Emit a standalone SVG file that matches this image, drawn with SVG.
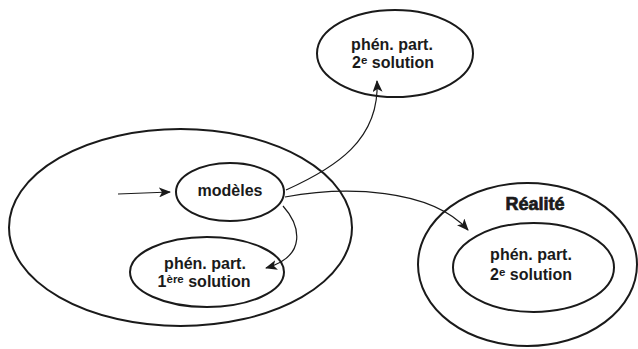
<svg xmlns="http://www.w3.org/2000/svg" width="638" height="349" viewBox="0 0 638 349">
  <style>
    .shape { fill: none; stroke: #1a1a1a; stroke-width: 2; }
    .link { fill: none; stroke: #1a1a1a; stroke-width: 1.2; }
    .label { font-family: "Liberation Sans", Arial, sans-serif; font-weight: bold; font-size: 16px; fill: #1a1a1a; text-anchor: middle; }
    .sup { font-size: 11.5px; }
    .title { font-family: "Liberation Sans", Arial, sans-serif; font-weight: bold; font-size: 18px; fill: #1a1a1a; stroke: #1a1a1a; stroke-width: 0.7; text-anchor: middle; }
  </style>
  <defs>
    <marker id="arrow" viewBox="0 0 12 10" refX="11" refY="5" markerWidth="12" markerHeight="10" markerUnits="userSpaceOnUse" orient="auto">
      <path d="M0,0 L12,5 L0,10 L3,5 z" fill="#1a1a1a"/>
    </marker>
  </defs>

  <rect width="638" height="349" fill="#ffffff"/>

  <!-- modelling domain -->
  <g id="domaine-modele">
    <ellipse class="shape" cx="180.5" cy="227.5" rx="171.5" ry="98.5"/>
  </g>

  <g id="modeles">
    <ellipse class="shape" cx="230" cy="192" rx="54" ry="29"/>
    <text class="label" x="230" y="196">modèles</text>
  </g>

  <g id="sol1">
    <ellipse class="shape" cx="207" cy="272" rx="77" ry="35"/>
    <text class="label"><tspan x="205" y="268.5">phén. part.</tspan><tspan x="204" y="286.5">1<tspan class="sup" dy="-3.5">ère</tspan><tspan dy="3.5"> solution</tspan></tspan></text>
  </g>

  <g id="sol2-haut">
    <ellipse class="shape" cx="395" cy="53.5" rx="78" ry="43.5"/>
    <text class="label"><tspan x="392" y="49.5">phén. part.</tspan><tspan x="393" y="67.5">2<tspan class="sup" dy="-3.5">e</tspan><tspan dy="3.5"> solution</tspan></tspan></text>
  </g>

  <g id="realite">
    <ellipse class="shape" cx="527.5" cy="264.5" rx="109.5" ry="81.5"/>
    <text class="title" x="535" y="210">Réalité</text>
  </g>

  <g id="sol2-realite">
    <ellipse class="shape" cx="533.5" cy="267.5" rx="80.5" ry="44.5"/>
    <text class="label"><tspan x="531" y="260">phén. part.</tspan><tspan x="531" y="280">2<tspan class="sup" dy="-4">e</tspan><tspan dy="4"> solution</tspan></tspan></text>
  </g>

  <g id="connecteurs">
    <path class="link" d="M118,194 L170,192" marker-end="url(#arrow)"/>
    <path class="link" d="M286,190 C335,168 380,140 377,81" marker-end="url(#arrow)"/>
    <path class="link" d="M285,197 C345,186 430,188 468,230" marker-end="url(#arrow)"/>
    <path class="link" d="M283,206 C300,225 308,256 266,268" marker-end="url(#arrow)"/>
  </g>
</svg>
